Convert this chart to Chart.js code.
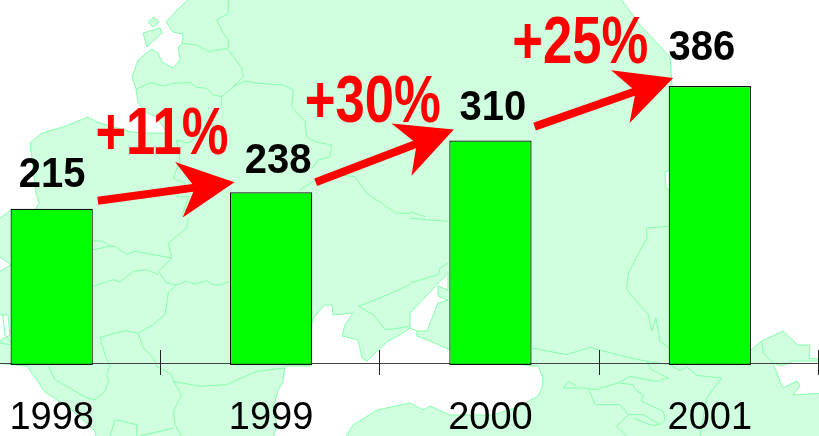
<!DOCTYPE html>
<html><head><meta charset="utf-8">
<style>html,body{margin:0;padding:0;width:819px;height:436px;overflow:hidden;background:#fff}
#wrap{position:absolute;left:-60px;top:0;width:881px;height:436px}</style>
<script src="https://cdn.jsdelivr.net/npm/chart.js@4/dist/chart.umd.min.js"></script>
</head><body><div id="wrap"><canvas id="c" width="881" height="436"></canvas></div>
<script>
// ---- data ----
const categories = ['1998','1999','2000','2001'];
const values = [215,238,310,386];
const growthLabels = ['+11%','+30%','+25%'];

// ---- background map (decoration, page pixels) ----
const LAND='#CFFFDF', LINE='#86FFAC';
const seas = [
 [[0,0],[193,0],[177,10],[166,22],[173,32],[183,34],[182,44],[178,47],[180,60],[173,68],[162,62],[158,53],[152,49],[138,60],[132,77],[136,89],[138,103],[147,113],[157,117],[167,133],[147,133],[132,132],[117,128],[97,122],[88,117],[63,127],[42,133],[30,143],[32,160],[36,193],[39,203],[35,210],[11,210],[0,222]],
 [[311,325],[315,316],[325,305],[332,305],[333,315],[353,313],[345,325],[342,336],[358,340],[362,358],[367,361],[388,341],[400,335],[410,328],[417,331],[417,336],[430,341],[450,350],[531,366],[538,366],[543,378],[542,388],[538,396],[520,406],[493,415],[470,415],[450,415],[430,406],[423,410],[410,403],[377,410],[353,425],[343,436],[272,436],[277,425],[273,408],[278,391],[283,381],[285,366],[311,366]],
 [[410,313],[448,273],[448,290],[438,286],[438,296],[448,300],[438,303],[432,318],[427,331],[417,331],[410,328]],
 [[618,0],[640,25],[670,57],[672,85],[671,170],[665,172],[666,188],[672,192],[751,350],[762,341],[783,331],[798,345],[810,345],[809,358],[820,360],[820,0]],
 [[773,363],[780,381],[783,388],[797,381],[800,386],[793,395],[820,393],[820,361],[793,361],[782,366]],
 [[0,253],[11,265],[0,274]],
 [[0,315],[8,315],[10,335],[0,343]],
 [[0,363],[27,366],[45,392],[72,410],[95,431],[97,436],[0,436]]
];
const islands = [
 [[148,22],[154,17],[159,22],[153,27]],
 [[143,33],[160,28],[162,33],[147,47]]
];
// border polylines in zoomed tile units: [tileX, tileY, points...]
const borders = [
 [0,0,[[408,268],[450,248],[490,258],[520,250],[570,248],[590,262],[620,265],[640,285],[665,290],[665,318]]],
 [0,0,[[665,290],[700,260],[730,230],[725,205],[700,170],[680,145],[625,155],[590,135],[545,130]]],
 [0,0,[[700,260],[735,243],[775,250],[850,255],[880,270],[875,320],[915,365],[920,410],[945,425],[995,435],[990,470],[955,480],[935,505]]],
 [0,0,[[900,570],[945,540],[1020,525],[1065,530],[1100,580],[1190,640],[1230,640]]],
 [0,0,[[685,0],[685,40],[650,60],[670,100],[685,120],[685,145]]],
 [0,0,[[530,420],[565,430],[600,400]]],
 [0,0,[[530,420],[540,480],[520,535],[555,550],[530,590],[565,590],[545,650]]],
 [0,218,[[280,68],[310,70],[330,85],[345,85],[380,110],[405,100],[515,120],[475,160],[500,195],[530,200],[560,190],[585,198],[620,188],[640,200],[665,200],[688,190]]],
 [0,218,[[515,120],[505,75],[560,30],[565,0]]],
 [0,218,[[280,205],[340,185],[360,192],[400,160],[440,155],[475,170]]],
 [0,218,[[530,200],[505,225],[495,290],[460,320],[415,345],[375,338],[300,358],[318,420],[330,440],[320,470],[325,490],[315,520],[285,545],[260,540],[165,485],[145,445]]],
 [0,218,[[415,345],[430,390],[460,420],[470,445],[515,470],[520,490],[545,530],[520,580],[525,620],[545,654]]],
 [0,218,[[520,490],[600,505],[680,500],[770,460],[855,450]]],
 [0,218,[[330,654],[345,605],[410,620],[410,654]]],
 [0,218,[[420,654],[520,630]]],
 [0,218,[[280,95],[330,85]]],
 [0,218,[[8,290],[15,350],[35,375]]],
 [0,218,[[0,375],[30,380]]],
 [0,218,[[1075,265],[1140,240],[1230,200]]],
 [0,218,[[1075,265],[1120,290],[1155,335],[1200,330],[1230,325]]],
 [410,218,[[365,390],[470,410],[540,388],[640,415],[710,430],[725,455],[775,480],[740,490],[660,475],[625,495],[555,515],[530,510],[460,510],[475,490],[500,505]]],
 [410,218,[[778,25],[710,30],[710,60],[655,165],[650,215],[715,290],[725,340],[738,300],[750,370],[778,390]]],
 [410,218,[[535,510],[555,560],[630,560],[655,590],[620,625],[650,654]]],
 [410,218,[[655,590],[700,590],[750,620],[725,622],[670,600]]],
 [410,218,[[625,495],[670,500],[675,515],[700,530],[695,550],[760,580],[765,605],[750,620]]],
 [410,218,[[830,445],[860,472],[935,480],[890,540],[870,654]]],
 [410,218,[[780,440],[810,458],[825,450]]],
 [410,218,[[710,430],[780,440]]],
 [410,218,[[0,195],[85,170],[90,150],[115,135]]],
 [410,218,[[1055,370],[1060,405],[1090,435]]],
 [410,218,[[0,0],[50,5],[115,10]]],
 [410,0,[[0,635],[45,650]]]
];
function bleed(p){return [p[0]<=0?-5:p[0]>=819?825:p[0], p[1]<=0?-5:p[1]>=436?441:p[1]];}
function trace(ctx,pts,close){ctx.beginPath();pts.forEach((p,i)=>i?ctx.lineTo(p[0],p[1]):ctx.moveTo(p[0],p[1]));if(close)ctx.closePath();}
const mapPlugin={id:'map',beforeDraw(chart){
 const ctx=chart.ctx;ctx.save();ctx.translate(60,0);
 ctx.fillStyle=LAND;ctx.fillRect(-60,0,900,436);
 ctx.lineWidth=1;ctx.strokeStyle=LINE;ctx.lineJoin='round';
 seas.forEach(s=>{trace(ctx,s.map(bleed),true);ctx.fillStyle='#fff';ctx.fill();ctx.stroke();});
 islands.forEach(s=>{trace(ctx,s,true);ctx.fillStyle=LAND;ctx.fill();ctx.stroke();});
 borders.forEach(b=>{trace(ctx,b[2].map(p=>[b[0]+p[0]/3,b[1]+p[1]/3]),false);ctx.stroke();});
 ctx.restore();
}};

// ---- annotation offsets relative to bar top corners ----
const valueLabelOffsets=[[0.5,-33.5],[7,-30.5],[2.5,-32.5],[-8,-37.5]];
const growthTextOffsets=[[-68,-38],[-76.5,-19],[-88.5,-23.5]];
const arrowTailOffsets=[[5,-8],[3.5,-10],[3,-14]];
const arrowTipOffsets=[[4.5,-10],[4.5,-11],[4.5,-8]];
function arrow(ctx,x0,y0,x1,y1){
 const a=Math.atan2(y1-y0,x1-x0),len=Math.hypot(x1-x0,y1-y0);
 ctx.save();ctx.translate(x0,y0);ctx.rotate(a);
 ctx.beginPath();
 ctx.moveTo(0,-4);ctx.lineTo(len-42,-4);ctx.lineTo(len-56,-28);ctx.lineTo(len,0);
 ctx.lineTo(len-56,28);ctx.lineTo(len-42,4);ctx.lineTo(0,4);ctx.closePath();
 ctx.fillStyle='#ff0000';ctx.fill();ctx.restore();
}
const notes={id:'notes',afterDatasetsDraw(chart){
 const ctx=chart.ctx,bars=chart.getDatasetMeta(0).data;
 ctx.save();
 bars.forEach((b,i)=>{
  ctx.save();
  ctx.translate(b.x+valueLabelOffsets[i][0],b.y+valueLabelOffsets[i][1]);
  ctx.scale(1,1.05);
  ctx.fillStyle='#000';ctx.font='bold 40px "Liberation Sans"';ctx.textAlign='center';ctx.textBaseline='middle';
  ctx.fillText(String(values[i]),0,0);
  ctx.restore();
 });
 growthLabels.forEach((t,i)=>{
  const a=bars[i],n=bars[i+1],ar=a.x+a.width/2,nl=n.x-n.width/2;
  arrow(ctx,ar+arrowTailOffsets[i][0],a.y+arrowTailOffsets[i][1],nl+arrowTipOffsets[i][0],n.y+arrowTipOffsets[i][1]);
  ctx.save();
  ctx.translate(nl+growthTextOffsets[i][0],n.y+growthTextOffsets[i][1]);
  ctx.scale(0.785,1);
  ctx.fillStyle='#ff0000';ctx.font='bold 67px "Liberation Sans"';ctx.textAlign='center';ctx.textBaseline='alphabetic';
  ctx.fillText(t,0,0);
  ctx.restore();
 });
 ctx.restore();
},afterDraw(chart){
 const ctx=chart.ctx,xs=chart.scales.x,y0=chart.scales.y.getPixelForValue(0);
 const half=xs.getPixelForValue(1)-xs.getPixelForValue(0);
 ctx.save();ctx.strokeStyle='#222';ctx.lineWidth=1;
 categories.forEach((c,i)=>{const x=Math.round(xs.getPixelForValue(i)+half/2-1.5)+0.5;
  ctx.beginPath();ctx.moveTo(x,y0-13);ctx.lineTo(x,y0+12);ctx.stroke();});
 ctx.restore();
}};

new Chart(document.getElementById('c'),{
 type:'bar',
 data:{labels:categories,datasets:[{data:values,backgroundColor:'#00ff00',borderColor:'#111',borderWidth:1.2,borderSkipped:false,base:-2.8,clip:false,categoryPercentage:1,barPercentage:0.375}]},
 options:{responsive:false,animation:false,devicePixelRatio:1,
  layout:{padding:{left:2,right:1.5,top:0,bottom:0}},
  plugins:{legend:{display:false},tooltip:{enabled:false},title:{display:false}},
  scales:{
   x:{z:1,grid:{display:false,drawTicks:false},border:{display:true,color:'#444',width:1},
      afterFit(s){s.height=73;},
      ticks:{color:'#000',font:{family:'Liberation Sans',size:38},padding:33,maxRotation:0,autoSkip:false}},
   y:{display:false,min:0,max:506,grid:{display:false}}
  }},
 plugins:[mapPlugin,notes]
});
</script></body></html>
